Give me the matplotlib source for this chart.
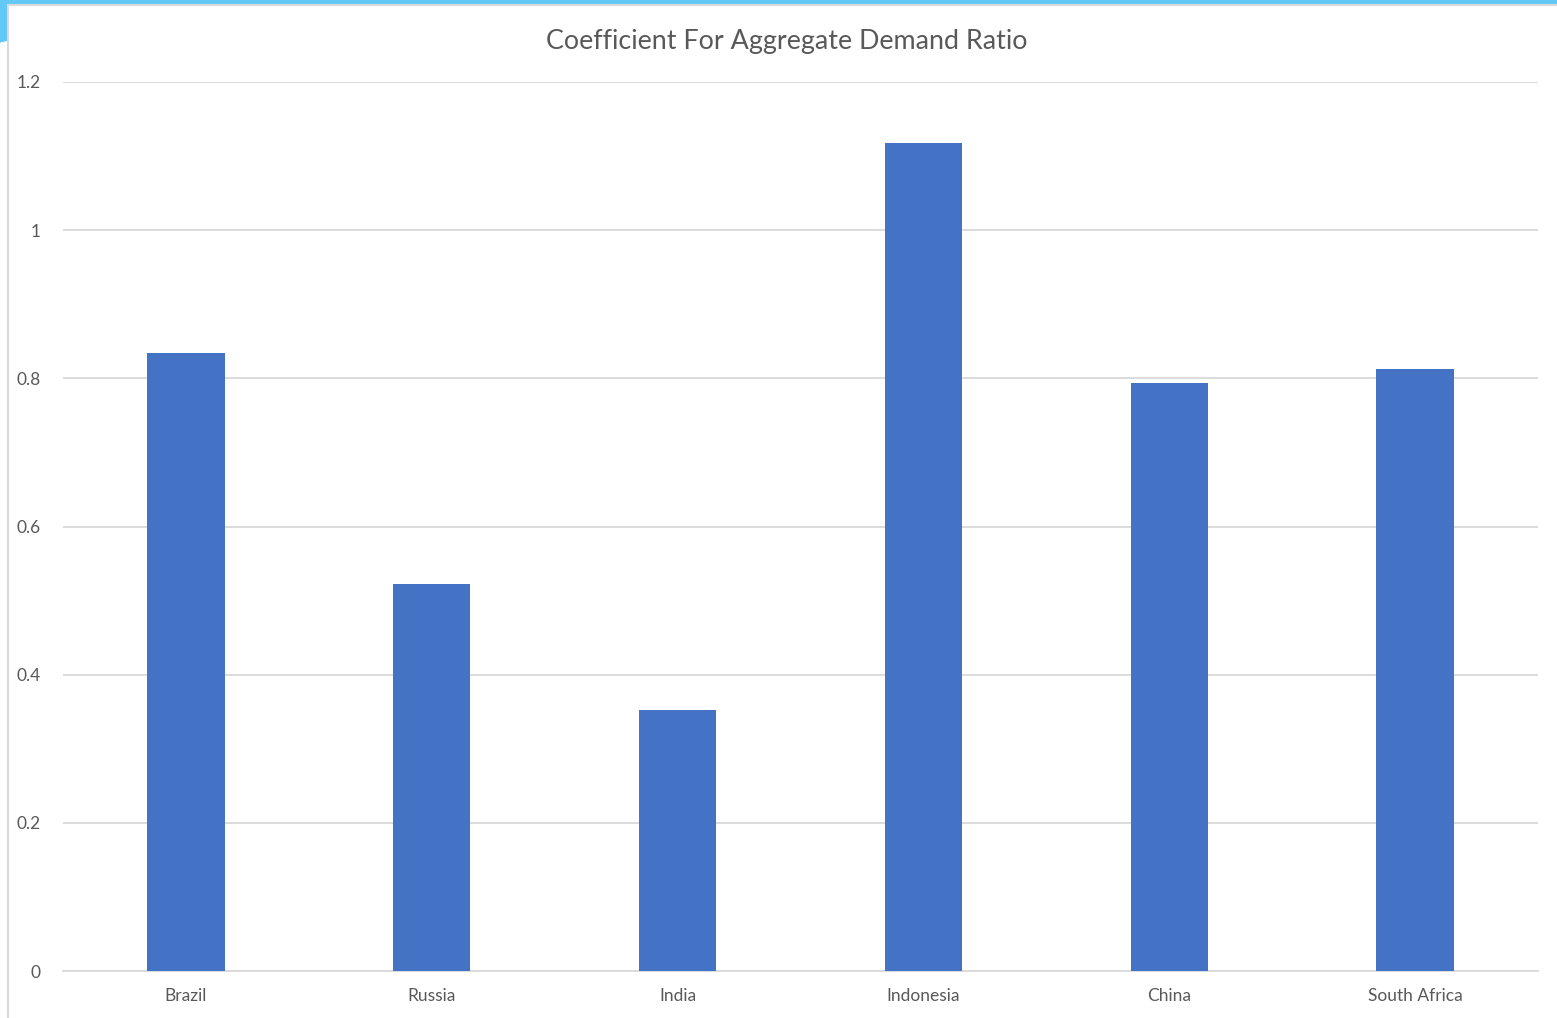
import matplotlib.pyplot as plt
from matplotlib.patches import Rectangle, Polygon
from matplotlib.lines import Line2D

countries = ['Brazil', 'Russia', 'India', 'Indonesia', 'China', 'South Africa']
coefficients = [0.834, 0.522, 0.352, 1.118, 0.794, 0.813]
y_ticks = [0, 0.2, 0.4, 0.6, 0.8, 1, 1.2]
y_tick_labels = ['0', '0.2', '0.4', '0.6', '0.8', '1', '1.2']

plt.rcParams['font.family'] = ['Lato', 'DejaVu Sans']

fig = plt.figure(figsize=(15.57, 10.18), dpi=100)

# window decoration: blue band at top, grey frame
fig.patches.append(Rectangle((0, 1 - 4 / 1018), 1, 4 / 1018, transform=fig.transFigure,
                             color='#62c8f5', zorder=0))
fig.patches.append(Polygon([(0, 1), (8 / 1557, 1), (8 / 1557, 1 - 40 / 1018), (0, 1 - 42 / 1018)],
                           closed=True, transform=fig.transFigure, color='#62c8f5', zorder=0))
fig.lines.append(Line2D([8 / 1557, 8 / 1557], [0, 1 - 5 / 1018], transform=fig.transFigure,
                        color='#d9d9d9', lw=1.5))
fig.lines.append(Line2D([8 / 1557, 1], [1 - 5 / 1018, 1 - 5 / 1018], transform=fig.transFigure,
                        color='#d9d9d9', lw=1.5))

ax = fig.add_axes([63 / 1557, 47 / 1018, 1475 / 1557, 889 / 1018])
x = range(len(countries))
ax.bar(x, coefficients, width=0.315, color='#4472C4', zorder=3)

ax.set_xlim(-0.5, len(countries) - 0.5)
ax.set_ylim(0, 1.2)
ax.set_yticks(y_ticks)
ax.set_yticklabels(y_tick_labels)
ax.set_xticks(list(x))
ax.set_xticklabels(countries)
ax.yaxis.grid(True, color='#d9d9d9', lw=1.3, zorder=0)
for s in ['top', 'right', 'left']:
    ax.spines[s].set_visible(False)
ax.spines['bottom'].set_color('#d9d9d9')
ax.spines['bottom'].set_linewidth(1.3)
ax.tick_params(axis='both', length=0, labelsize=12.5, colors='#595959')
ax.tick_params(axis='y', pad=16)
ax.tick_params(axis='x', pad=12)

fig.text(0.505, 1 - 41 / 1018, 'Coefficient For Aggregate Demand Ratio', ha='center', va='center',
         fontsize=19.4, color='#595959')

fig.savefig('out.png', dpi=100)
